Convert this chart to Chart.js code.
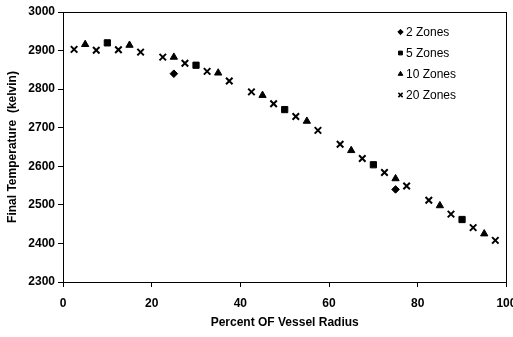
<!DOCTYPE html>
<html>
<head>
<meta charset="utf-8">
<style>
  html, body { margin: 0; padding: 0; background: #fff; }
  #wrap { position: relative; width: 513px; height: 337px; }
</style>
<script src="https://cdn.jsdelivr.net/npm/chart.js@4.4.1/dist/chart.umd.min.js"></script>
</head>
<body>
<div id="wrap"><canvas id="tempChart" width="513" height="337"></canvas></div>
<script>
// radius positions (% of vessel radius) and final temperatures (K) per zoning
const zones2Radius = [25, 75];
const zones2Temp = [2840, 2540];

const zones5Radius = [10, 30, 50, 70, 90];
const zones5Temp = [2920, 2862, 2747, 2604, 2462];

const zones10Radius = [5, 15, 25, 35, 45, 55, 65, 75, 85, 95];
const zones10Temp = [2916, 2914, 2883, 2842, 2784, 2717, 2641, 2568, 2498, 2425];

const zones20Radius = [2.5, 7.5, 12.5, 17.5, 22.5, 27.5, 32.5, 37.5, 42.5, 47.5,
                       52.5, 57.5, 62.5, 67.5, 72.5, 77.5, 82.5, 87.5, 92.5, 97.5];
const zones20Temp = [2903, 2901, 2902, 2896, 2883, 2867, 2846, 2821, 2793, 2762,
                     2729, 2693, 2657, 2620, 2584, 2549, 2512, 2476, 2441, 2408];

const seriesNames = ['2 Zones', '5 Zones', '10 Zones', '20 Zones'];

function toPoints(xs, ys) {
    return xs.map((x, i) => ({ x: x, y: ys[i] }));
}

const FONT = '"Liberation Sans", Arial, sans-serif';

// box around the plot area plus a simple legend in the upper right corner
const framePlugin = {
    id: 'frame',
    afterDraw(chart) {
        const ctx = chart.ctx;
        const a = chart.chartArea;
        ctx.save();
        ctx.strokeStyle = '#000';
        ctx.lineWidth = 1;
        ctx.strokeRect(Math.round(a.left) + 0.5, Math.round(a.top) + 0.5,
                       Math.round(a.right - a.left), Math.round(a.bottom - a.top));

        ctx.font = '12px ' + FONT;
        ctx.textBaseline = 'middle';
        chart.data.datasets.forEach((ds, i) => {
            const y = 32 + i * 21;
            ctx.fillStyle = '#000';
            ctx.strokeStyle = '#000';
            ctx.lineWidth = ds.pointStyle === 'crossRot' ? 1.5 : 1;
            Chart.helpers.drawPoint(ctx, {
                pointStyle: ds.pointStyle,
                radius: ds.pointStyle === 'crossRot' ? 3 : 2.7,
                borderWidth: 1
            }, 400.5, y);
            ctx.fillText(ds.label, 406, y + 0.5);
        });
        ctx.restore();
    }
};

const ctx = document.getElementById('tempChart').getContext('2d');
const tempChart = new Chart(ctx, {
    type: 'scatter',
    data: {
        datasets: [{
            label: seriesNames[0],
            data: toPoints(zones2Radius, zones2Temp),
            pointStyle: 'rectRot',
            pointRadius: 3.8,
            backgroundColor: '#000',
            borderColor: '#000',
            borderWidth: 1
        }, {
            label: seriesNames[1],
            data: toPoints(zones5Radius, zones5Temp),
            pointStyle: 'rect',
            pointRadius: 4.4,
            backgroundColor: '#000',
            borderColor: '#000',
            borderWidth: 1
        }, {
            label: seriesNames[2],
            data: toPoints(zones10Radius, zones10Temp),
            pointStyle: 'triangle',
            pointRadius: 4.2,
            backgroundColor: '#000',
            borderColor: '#000',
            borderWidth: 1
        }, {
            label: seriesNames[3],
            data: toPoints(zones20Radius, zones20Temp),
            pointStyle: 'crossRot',
            pointRadius: 4.6,
            backgroundColor: '#000',
            borderColor: '#000',
            borderWidth: 2
        }]
    },
    options: {
        responsive: false,
        animation: false,
        events: [],
        layout: { padding: { top: 12, right: 0, left: 0, bottom: 0 } },
        plugins: {
            legend: { display: false },
            tooltip: { enabled: false }
        },
        scales: {
            x: {
                type: 'linear',
                min: 0,
                max: 100,
                ticks: {
                    stepSize: 20,
                    color: '#000',
                    padding: 9,
                    font: { family: FONT, size: 12, weight: 'bold' }
                },
                grid: { drawOnChartArea: false, drawTicks: true, tickLength: 5, color: '#000' },
                border: { display: true, color: '#000', width: 1 },
                title: {
                    display: true,
                    text: 'Percent OF Vessel Radius',
                    color: '#000',
                    padding: { top: 6, bottom: 7 },
                    font: { family: FONT, size: 12, weight: 'bold' }
                },
                afterFit(scale) {
                    scale.height = 55;
                    scale.paddingLeft = 0;
                    scale.paddingRight = 5;
                }
            },
            y: {
                type: 'linear',
                min: 2300,
                max: 3000,
                ticks: {
                    stepSize: 100,
                    color: '#000',
                    padding: 3,
                    font: { family: FONT, size: 12, weight: 'bold' },
                    callback: (v) => String(v)
                },
                grid: { drawOnChartArea: false, drawTicks: true, tickLength: 5, color: '#000' },
                border: { display: true, color: '#000', width: 1 },
                title: {
                    display: true,
                    text: 'Final Temperature  (kelvin)',
                    color: '#000',
                    padding: { top: 5, bottom: 0 },
                    font: { family: FONT, size: 12, weight: 'bold' }
                },
                afterFit(scale) { scale.width = 63; }
            }
        }
    },
    plugins: [framePlugin]
});
</script>
</body>
</html>
